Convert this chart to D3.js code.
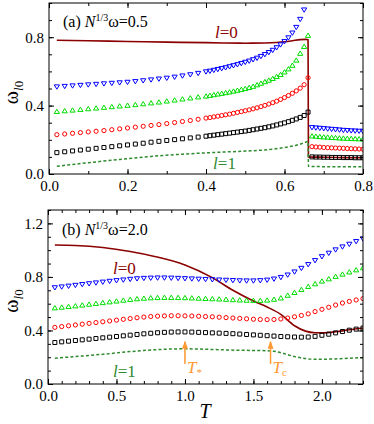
<!DOCTYPE html>
<html>
<head>
<meta charset="utf-8">
<script src="https://cdn.jsdelivr.net/npm/d3@7"></script>
<style>
  body { margin: 0; background: #fff; }
  svg { display: block; font-family: "Liberation Serif", "Times New Roman", serif; }
  svg text { font-family: "Liberation Serif", "Times New Roman", serif; }
</style>
</head>
<body>
<svg id="chart" width="374" height="424"></svg>
<script>
// ---- panel (a): N^(1/3) omega = 0.5 ----
const tA = [0.02,0.04,0.06,0.08,0.10,0.12,0.14,0.16,0.18,0.20,0.22,0.24,0.26,0.28,0.30,0.32,0.34,0.36,0.38,
  0.40,0.41,0.42,0.43,0.44,0.45,0.46,0.47,0.48,0.49,0.50,0.51,0.52,0.53,0.54,0.55,0.56,0.57,0.58,0.59,0.60,0.61,0.62,0.63,0.64,0.65,0.66,
  0.67,0.68,0.69,0.70,0.71,0.72,0.73,0.74,0.75,0.76,0.77,0.78,0.79,0.80];
const blueA = [0.510,0.513,0.516,0.519,0.522,0.525,0.528,0.531,0.534,0.537,0.541,0.546,0.551,0.556,0.561,0.567,0.574,0.581,0.589,
  0.598,0.602,0.607,0.612,0.617,0.622,0.628,0.634,0.640,0.647,0.654,0.661,0.669,0.678,0.688,0.699,0.711,0.724,0.739,0.756,0.775,0.797,0.825,0.858,0.905,0.960,1.020,
  0.272,0.270,0.268,0.266,0.264,0.262,0.260,0.258,0.256,0.255,0.253,0.252,0.251,0.250];
const greenA = [0.365,0.369,0.373,0.377,0.381,0.385,0.389,0.393,0.397,0.401,0.405,0.410,0.415,0.420,0.426,0.432,0.438,0.444,0.450,
  0.455,0.459,0.463,0.467,0.471,0.475,0.479,0.484,0.489,0.494,0.499,0.505,0.512,0.521,0.530,0.539,0.548,0.558,0.569,0.581,0.596,0.614,0.635,0.665,0.705,0.745,0.810,
  0.222,0.220,0.218,0.216,0.215,0.213,0.212,0.210,0.209,0.208,0.207,0.206,0.205,0.204];
const redA = [0.230,0.234,0.238,0.242,0.246,0.250,0.254,0.259,0.264,0.269,0.274,0.279,0.284,0.289,0.295,0.301,0.307,0.313,0.320,
  0.327,0.330,0.334,0.338,0.342,0.346,0.350,0.355,0.360,0.365,0.370,0.375,0.381,0.387,0.394,0.401,0.409,0.417,0.426,0.436,0.447,0.459,0.472,0.486,0.502,0.522,0.563,
  0.160,0.158,0.157,0.155,0.154,0.153,0.152,0.151,0.150,0.149,0.148,0.147,0.146,0.145];
const blackA = [0.125,0.130,0.135,0.140,0.145,0.150,0.155,0.160,0.165,0.170,0.175,0.180,0.186,0.191,0.196,0.201,0.206,0.211,0.216,
  0.221,0.224,0.227,0.230,0.233,0.236,0.239,0.242,0.245,0.248,0.251,0.255,0.259,0.263,0.267,0.271,0.276,0.281,0.287,0.293,0.299,0.306,0.314,0.322,0.331,0.342,0.362,
  0.100,0.099,0.099,0.098,0.098,0.097,0.097,0.097,0.096,0.096,0.096,0.095,0.095,0.095];
// l=0 (solid) and l=1 (dashed) curves
const l0AT = [0.02,0.10,0.20,0.30,0.40,0.45,0.50,0.55,0.58,0.60,0.62,0.64,0.655,0.66,0.661,0.70,0.75,0.80];
const l0AV = [0.782,0.779,0.775,0.771,0.768,0.766,0.765,0.766,0.769,0.773,0.779,0.786,0.787,0.785,0.100,0.098,0.096,0.095];
const l1AT = [0.02,0.10,0.18,0.26,0.34,0.42,0.50,0.56,0.60,0.63,0.65,0.66,0.661,0.70,0.75,0.80];
const l1AV = [0.045,0.066,0.085,0.103,0.116,0.126,0.134,0.143,0.155,0.168,0.182,0.190,0.045,0.043,0.043,0.042];
const xTicksA = [0.0, 0.2, 0.4, 0.6, 0.8];
const yTicksA = [0.0, 0.4, 0.8];

// ---- panel (b): N^(1/3) omega = 2.0 ----
const tB = [0.05,0.10,0.15,0.20,0.25,0.30,0.35,0.40,0.45,0.50,0.55,0.60,0.65,0.70,0.75,0.80,0.85,0.90,0.95,1.00,
  1.05,1.10,1.15,1.20,1.25,1.30,1.35,1.40,1.45,1.50,
  1.55,1.60,1.65,1.70,1.75,1.80,1.85,1.90,1.95,2.00,2.05,2.10,2.15,2.20,2.25,2.30];
const blueB = [0.720,0.726,0.732,0.738,0.744,0.750,0.756,0.762,0.768,0.773,0.778,0.783,0.787,0.790,0.792,0.793,0.793,0.792,0.790,0.788,
  0.786,0.784,0.782,0.780,0.778,0.776,0.774,0.772,0.771,0.771,
  0.773,0.777,0.785,0.797,0.815,0.838,0.865,0.893,0.923,0.952,0.978,1.003,1.025,1.045,1.065,1.085];
const greenB = [0.568,0.573,0.578,0.583,0.589,0.595,0.601,0.607,0.613,0.619,0.625,0.631,0.636,0.640,0.643,0.645,0.646,0.646,0.645,0.644,
  0.642,0.640,0.638,0.636,0.634,0.632,0.629,0.627,0.625,0.624,
  0.624,0.626,0.632,0.642,0.662,0.683,0.705,0.728,0.748,0.768,0.785,0.803,0.820,0.836,0.852,0.868];
const redB = [0.423,0.429,0.435,0.441,0.447,0.453,0.459,0.465,0.471,0.477,0.483,0.489,0.495,0.500,0.504,0.507,0.509,0.510,0.510,0.509,
  0.508,0.506,0.504,0.502,0.499,0.496,0.493,0.490,0.487,0.484,
  0.482,0.481,0.482,0.486,0.493,0.502,0.512,0.524,0.541,0.558,0.573,0.590,0.605,0.617,0.628,0.638];
const blackB = [0.310,0.315,0.320,0.325,0.330,0.335,0.340,0.345,0.350,0.355,0.360,0.365,0.370,0.375,0.379,0.383,0.386,0.388,0.389,0.389,
  0.388,0.386,0.384,0.382,0.380,0.378,0.376,0.373,0.370,0.367,
  0.364,0.361,0.358,0.355,0.353,0.351,0.350,0.351,0.356,0.364,0.372,0.382,0.392,0.402,0.410,0.418];
const l0BT = [0.05,0.20,0.40,0.60,0.77,1.00,1.20,1.35,1.50,1.60,1.70,1.80,1.88,1.95,2.00,2.10,2.20,2.30];
const l0BV = [1.038,1.035,1.020,0.990,0.955,0.890,0.795,0.700,0.620,0.575,0.520,0.435,0.395,0.383,0.382,0.390,0.405,0.418];
const l1BT = [0.05,0.20,0.40,0.60,0.80,1.00,1.20,1.40,1.55,1.65,1.72,1.80,1.88,1.95,2.05,2.15,2.30];
const l1BV = [0.193,0.205,0.222,0.242,0.257,0.263,0.258,0.252,0.250,0.244,0.228,0.205,0.190,0.185,0.186,0.190,0.197];
const xTicksB = [0.0, 0.5, 1.0, 1.5, 2.0];
const yTicksB = [0.0, 0.4, 0.8, 1.2];
const arrowT = [1.0, 1.625];       // T*, Tc
const arrowSub = ["*", "c"];

const svg = d3.select("#chart");
const SERIF = '"Liberation Serif", "Times New Roman", serif';
const DARKRED = "#8b0000", DGREEN = "#2e8b2e", ORANGE = "#ff9933";

// marker shapes, centred on the point
const shapes = {
  down: "M-2.6,-1.9L2.6,-1.9L0,2.4Z",
  up: "M-2.6,1.9L2.6,1.9L0,-2.4Z",
  square: "M-2,-2h4v4h-4Z"
};

function drawPanel(p) {
  const x = d3.scaleLinear().domain(p.xDomain).range(p.xRange);
  const y = d3.scaleLinear().domain(p.yDomain).range(p.yRange);
  const g = svg.append("g");

  g.append("clipPath").attr("id", p.id)
    .append("rect")
    .attr("x", p.xRange[0]).attr("y", p.yRange[1])
    .attr("width", p.xRange[1] - p.xRange[0])
    .attr("height", p.yRange[0] - p.yRange[1]);

  const plot = g.append("g").attr("clip-path", "url(#" + p.id + ")");

  const line = d3.line().x(d => x(d[0])).y(d => y(d[1])).curve(d3.curveMonotoneX);

  // l=0 solid line
  plot.append("path")
    .datum(d3.zip(p.l0T, p.l0V))
    .attr("d", line)
    .attr("fill", "none")
    .attr("stroke", DARKRED)
    .attr("stroke-width", 1.6);

  // l=1 dashed line
  plot.append("path")
    .datum(d3.zip(p.l1T, p.l1V))
    .attr("d", line)
    .attr("fill", "none")
    .attr("stroke", DGREEN)
    .attr("stroke-width", 1.5)
    .attr("stroke-dasharray", "3,2.2");

  // marker series
  p.series.forEach(s => {
    const pts = d3.zip(p.t, s.values);
    if (s.shape === "circle") {
      plot.selectAll(null).data(pts).enter().append("circle")
        .attr("cx", d => x(d[0])).attr("cy", d => y(d[1]))
        .attr("r", 2.1)
        .attr("fill", "none").attr("stroke", s.color).attr("stroke-width", 1);
    } else {
      plot.selectAll(null).data(pts).enter().append("path")
        .attr("transform", d => "translate(" + x(d[0]) + "," + y(d[1]) + ")")
        .attr("d", shapes[s.shape])
        .attr("fill", "none").attr("stroke", s.color).attr("stroke-width", 1);
    }
  });

  // axes, ticks inward on all four sides
  const bottom = p.yRange[0], top = p.yRange[1], left = p.xRange[0], right = p.xRange[1];
  const xMinor = x.ticks(p.xMinorCount), yMinor = y.ticks(p.yMinorCount);
  const styleAxis = sel => {
    sel.attr("font-family", null).attr("font-size", null);
    sel.select(".domain").remove();
    sel.selectAll("line").attr("stroke", "#000");
    sel.selectAll("text").attr("fill", "#000")
      .style("font-family", SERIF).style("font-size", "15px");
  };
  const fmt = d3.format(".1f");

  g.append("g").attr("transform", "translate(0," + bottom + ")")
    .call(d3.axisBottom(x).tickValues(xMinor).tickSize(-3).tickFormat("")).call(styleAxis);
  g.append("g").attr("transform", "translate(0," + bottom + ")")
    .call(d3.axisBottom(x).tickValues(p.xTicks).tickSize(-5).tickPadding(6).tickFormat(fmt)).call(styleAxis);
  g.append("g").attr("transform", "translate(0," + top + ")")
    .call(d3.axisTop(x).tickValues(xMinor).tickSize(-3).tickFormat("")).call(styleAxis);
  g.append("g").attr("transform", "translate(0," + top + ")")
    .call(d3.axisTop(x).tickValues(p.xTicks).tickSize(-5).tickFormat("")).call(styleAxis);

  g.append("g").attr("transform", "translate(" + left + ",0)")
    .call(d3.axisLeft(y).tickValues(yMinor).tickSize(-3).tickFormat("")).call(styleAxis);
  g.append("g").attr("transform", "translate(" + left + ",0)")
    .call(d3.axisLeft(y).tickValues(p.yTicks).tickSize(-5).tickPadding(5).tickFormat(fmt)).call(styleAxis);
  g.append("g").attr("transform", "translate(" + right + ",0)")
    .call(d3.axisRight(y).tickValues(yMinor).tickSize(-3).tickFormat("")).call(styleAxis);
  g.append("g").attr("transform", "translate(" + right + ",0)")
    .call(d3.axisRight(y).tickValues(p.yTicks).tickSize(-5).tickFormat("")).call(styleAxis);

  g.append("rect")
    .attr("x", left).attr("y", top)
    .attr("width", right - left).attr("height", bottom - top)
    .attr("fill", "none").attr("stroke", "#000").attr("stroke-width", 1);

  // panel title
  const title = g.append("text")
    .attr("x", left + 14).attr("y", top + p.titleDy)
    .attr("font-size", 16).attr("fill", "#000");
  title.append("tspan").text(p.tag + " ");
  title.append("tspan").attr("font-style", "italic").text("N");
  title.append("tspan").attr("font-size", 10).attr("dy", -6).text("1/3");
  title.append("tspan").attr("dy", 6).text("\u03C9=" + p.omega);

  // l labels
  const lab = (pos, txt, color) => {
    const t = g.append("text").attr("x", x(pos[0])).attr("y", y(pos[1]))
      .attr("font-size", 17).attr("fill", color);
    t.append("tspan").attr("font-style", "italic").text("l");
    t.append("tspan").text("=" + txt);
  };
  lab(p.l0Pos, "0", DARKRED);
  lab(p.l1Pos, "1", DGREEN);

  // y-axis label
  const yl = g.append("text")
    .attr("transform", "translate(18," + ((top + bottom) / 2 + 4) + ") rotate(-90)")
    .attr("text-anchor", "middle").attr("font-size", 20).attr("fill", "#000");
  yl.append("tspan").text("\u03C9");
  yl.append("tspan").attr("font-size", 13).attr("dy", 5).attr("font-style", "italic").text("l");
  yl.append("tspan").attr("font-size", 13).text("0");

  return { x, y, g };
}

const pa = drawPanel({
  id: "clipA", tag: "(a)", omega: "0.5", titleDy: 24,
  xDomain: [0, 0.8], xRange: [49, 363], yDomain: [0, 1.0], yRange: [174, 3],
  xMinorCount: 8, yMinorCount: 10, xTicks: xTicksA, yTicks: yTicksA,
  t: tA,
  series: [
    { values: blueA, shape: "down", color: "#0000ff" },
    { values: greenA, shape: "up", color: "#00dd00" },
    { values: redA, shape: "circle", color: "#ff0000" },
    { values: blackA, shape: "square", color: "#000000" }
  ],
  l0T: l0AT, l0V: l0AV, l1T: l1AT, l1V: l1AV,
  l0Pos: [0.423, 0.795], l1Pos: [0.418, 0.03]
});

const pb = drawPanel({
  id: "clipB", tag: "(b)", omega: "2.0", titleDy: 25,
  xDomain: [0, 2.3], xRange: [48, 363], yDomain: [0, 1.3], yRange: [384, 210],
  xMinorCount: 23, yMinorCount: 13, xTicks: xTicksB, yTicks: yTicksB,
  t: tB,
  series: [
    { values: blueB, shape: "down", color: "#0000ff" },
    { values: greenB, shape: "up", color: "#00dd00" },
    { values: redB, shape: "circle", color: "#ff0000" },
    { values: blackB, shape: "square", color: "#000000" }
  ],
  l0T: l0BT, l0V: l0BV, l1T: l1BT, l1V: l1BV,
  l0Pos: [0.475, 0.825], l1Pos: [0.475, 0.05]
});

// orange arrows marking T* and Tc
const defs = svg.append("defs");
defs.append("marker").attr("id", "arrowhead")
  .attr("viewBox", "0 0 8 6").attr("refX", 7).attr("refY", 3)
  .attr("markerWidth", 8).attr("markerHeight", 6).attr("markerUnits", "userSpaceOnUse")
  .attr("orient", "auto")
  .append("path").attr("d", "M0,0L8,3L0,6Z").attr("fill", ORANGE);

arrowT.forEach((t, i) => {
  const ax = pb.x(t);
  pb.g.append("line")
    .attr("x1", ax).attr("x2", ax)
    .attr("y1", pb.y(0.15)).attr("y2", pb.y(0.315))
    .attr("stroke", ORANGE).attr("stroke-width", 1.5)
    .attr("marker-end", "url(#arrowhead)");
  const t2 = pb.g.append("text")
    .attr("x", ax + 2).attr("y", pb.y(0.083))
    .attr("font-size", 17).attr("fill", ORANGE);
  t2.append("tspan").attr("font-style", "italic").text("T");
  t2.append("tspan").attr("font-size", 11).attr("dy", 3).text(arrowSub[i]);
});

// x-axis title
svg.append("text")
  .attr("x", 205).attr("y", 418)
  .attr("text-anchor", "middle")
  .attr("font-size", 20).attr("font-style", "italic").attr("fill", "#000")
  .text("T");
</script>
</body>
</html>
